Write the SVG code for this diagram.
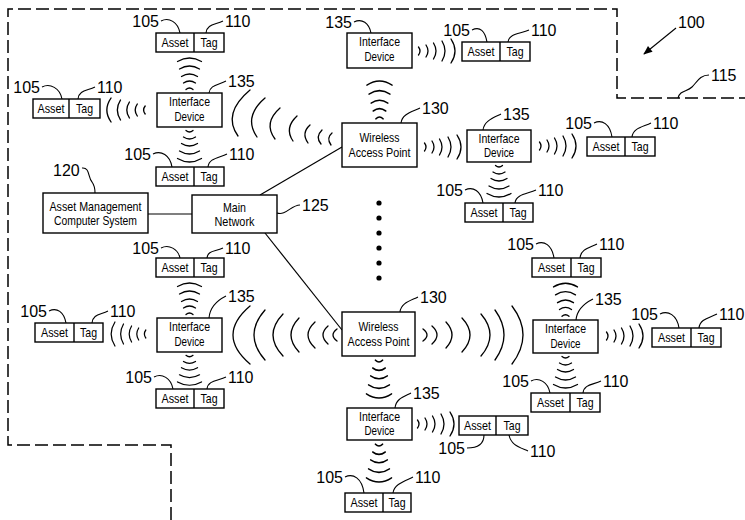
<svg xmlns="http://www.w3.org/2000/svg" width="745" height="520" viewBox="0 0 745 520">
<defs>
<style>
.b{fill:#fff;stroke:#000;stroke-width:1.4}
.d{fill:none;stroke:#000;stroke-width:1.5;stroke-dasharray:13 5}
.w{fill:none;stroke:#000;stroke-width:1.3;stroke-linecap:round}
.c{fill:none;stroke:#000;stroke-width:1.2}
.l{fill:none;stroke:#000;stroke-width:1.1}
.t{font-family:"Liberation Sans",Arial,sans-serif;font-size:13px;text-anchor:middle;fill:#000}
.n{font-family:"Liberation Sans",Arial,sans-serif;font-size:16px;fill:#000}
.e{text-anchor:end}
</style>
<marker id="ah" viewBox="0 0 10 10" refX="9" refY="5" markerWidth="11" markerHeight="9" orient="auto" markerUnits="userSpaceOnUse"><path d="M0,1 L10,5 L0,9 z" fill="#000"/></marker>
<g id="wr" class="w">
<path d="M6.5,-4 Q9.5,0 6.5,4"/>
<path d="M14,-6 Q18,0 14,6"/>
<path d="M21.5,-8 Q26.5,0 21.5,8"/>
<path d="M30,-10 Q36,0 30,10"/>
<path d="M39,-12 Q47,0 39,12"/>
</g>
<g id="wd" class="w">
<path d="M-3.5,3.5 Q0,6.5 3.5,3.5"/>
<path d="M-6,10 Q0,14 6,10"/>
<path d="M-8,16.5 Q0,21.5 8,16.5"/>
<path d="M-10,24 Q0,30 10,24"/>
<path d="M-12,31.5 Q0,38.5 12,31.5"/>
</g>
</defs>
<rect width="745" height="520" fill="#fff"/>

<path class="d" d="M171,520 V445 H8 V9 H617 V98 H745"/>

<g id="connectors">
<path class="c" d="M148,214 H192"/>
<path class="c" d="M260,195 L342,147"/>
<path class="c" d="M265,233 L342,330"/>
<g class="w">
<path d="M250,90 Q222,113.5 238,136"/>
<path d="M265,98 Q243,117 257,137"/>
<path d="M280,108 Q263,123 275,139"/>
<path d="M297,116 Q284,128 293,141"/>
<path d="M310,125 Q301,133 308,143"/>
<path d="M322,130 Q315,137 321,144"/>
<path d="M332,133 Q326,138 331,145"/>
<path d="M250,306 Q216,335 250,364"/>
<path d="M265,310 Q243,335 265,360"/>
<path d="M283,314 Q263,335 283,356"/>
<path d="M299,318 Q283,335 299,352"/>
<path d="M315,322 Q301,335 315,348"/>
<path d="M328,326 Q318,335 328,344"/>
<path d="M337,329 Q329,335 337,341"/>
<path d="M423,329 Q431,335 423,341"/>
<path d="M432,326 Q442,335 432,344"/>
<path d="M446,322 Q458,335 446,348"/>
<path d="M462,318 Q478,335 462,352"/>
<path d="M481,314 Q499,335 481,356"/>
<path d="M495,310 Q513,335 495,360"/>
<path d="M512,306 Q534,335 512,364"/>
</g>
<use href="#wd" transform="translate(189.5,93) scale(1,-1)"/>
<use href="#wd" transform="translate(189.5,127)"/>
<use href="#wr" transform="translate(152,110) scale(-1.05,1)"/>
<use href="#wd" transform="translate(189.5,318) scale(1,-1)"/>
<use href="#wd" transform="translate(189.5,352) scale(1,0.95)"/>
<use href="#wr" transform="translate(152,334) scale(-0.95,1)"/>
<use href="#wd" transform="translate(379.5,123) scale(1.05,-1.2)"/>
<use href="#wr" transform="translate(412,51)"/>
<use href="#wr" transform="translate(418,147)"/>
<use href="#wr" transform="translate(533,146)"/>
<use href="#wd" transform="translate(499,162)"/>
<use href="#wd" transform="translate(565.5,320) scale(1,-1.05)"/>
<use href="#wd" transform="translate(565.5,353)"/>
<use href="#wr" transform="translate(600,336)"/>
<use href="#wd" transform="translate(379,356) scale(1.05,1.2)"/>
<use href="#wr" transform="translate(411,424)"/>
<use href="#wd" transform="translate(379,440) scale(1.05,1.2)"/>
<g fill="#000">
<circle cx="379" cy="203" r="2.6"/><circle cx="379" cy="218" r="2.6"/><circle cx="379" cy="233" r="2.6"/>
<circle cx="379" cy="248" r="2.6"/><circle cx="379" cy="263" r="2.6"/><circle cx="379" cy="278" r="2.6"/>
</g>
</g>

<g id="amcs"><rect class="b" x="43" y="193" width="105" height="40"/>
<text class="t" x="95.5" y="211" textLength="92" lengthAdjust="spacingAndGlyphs">Asset Management</text>
<text class="t" x="95.5" y="225" textLength="83" lengthAdjust="spacingAndGlyphs">Computer System</text></g>
<g id="main-network"><rect class="b" x="192" y="195" width="85" height="38"/>
<text class="t" x="234.5" y="212" textLength="23" lengthAdjust="spacingAndGlyphs">Main</text>
<text class="t" x="234.5" y="226" textLength="40" lengthAdjust="spacingAndGlyphs">Network</text></g>
<g id="wap1"><rect class="b" x="342" y="123" width="75" height="44"/>
<text class="t" x="379.5" y="142" textLength="40" lengthAdjust="spacingAndGlyphs">Wireless</text>
<text class="t" x="379.5" y="157" textLength="62" lengthAdjust="spacingAndGlyphs">Access Point</text></g>
<g id="wap2"><rect class="b" x="342" y="312" width="73" height="44"/>
<text class="t" x="378.5" y="331" textLength="40" lengthAdjust="spacingAndGlyphs">Wireless</text>
<text class="t" x="378.5" y="346" textLength="62" lengthAdjust="spacingAndGlyphs">Access Point</text></g>

<g id="id1"><rect class="b" x="157" y="93" width="65" height="34"/>
<text class="t" x="189.5" y="106" textLength="41" lengthAdjust="spacingAndGlyphs">Interface</text>
<text class="t" x="189.5" y="121" textLength="30" lengthAdjust="spacingAndGlyphs">Device</text></g>
<g id="id2"><rect class="b" x="157" y="318" width="65" height="34"/>
<text class="t" x="189.5" y="331" textLength="41" lengthAdjust="spacingAndGlyphs">Interface</text>
<text class="t" x="189.5" y="346" textLength="30" lengthAdjust="spacingAndGlyphs">Device</text></g>
<g id="id4"><rect class="b" x="347" y="33" width="65" height="35"/>
<text class="t" x="379.5" y="46" textLength="41" lengthAdjust="spacingAndGlyphs">Interface</text>
<text class="t" x="379.5" y="61" textLength="30" lengthAdjust="spacingAndGlyphs">Device</text></g>
<g id="id5"><rect class="b" x="467" y="130" width="64" height="32"/>
<text class="t" x="499" y="143" textLength="41" lengthAdjust="spacingAndGlyphs">Interface</text>
<text class="t" x="499" y="157" textLength="30" lengthAdjust="spacingAndGlyphs">Device</text></g>
<g id="id6"><rect class="b" x="533" y="320" width="65" height="33"/>
<text class="t" x="565.5" y="333" textLength="41" lengthAdjust="spacingAndGlyphs">Interface</text>
<text class="t" x="565.5" y="348" textLength="30" lengthAdjust="spacingAndGlyphs">Device</text></g>
<g id="id7"><rect class="b" x="347" y="408" width="65" height="32"/>
<text class="t" x="379.5" y="421" textLength="41" lengthAdjust="spacingAndGlyphs">Interface</text>
<text class="t" x="379.5" y="435" textLength="30" lengthAdjust="spacingAndGlyphs">Device</text></g>

<g id="a1"><rect class="b" x="156" y="33" width="68" height="19"/><path class="b" d="M194,33 V52"/>
<text class="t" x="175" y="47" textLength="27" lengthAdjust="spacingAndGlyphs">Asset</text><text class="t" x="209" y="47" textLength="17" lengthAdjust="spacingAndGlyphs">Tag</text></g>
<g id="a2"><rect class="b" x="33" y="99" width="67" height="19"/><path class="b" d="M69,99 V118"/>
<text class="t" x="51" y="113" textLength="27" lengthAdjust="spacingAndGlyphs">Asset</text><text class="t" x="84.5" y="113" textLength="17" lengthAdjust="spacingAndGlyphs">Tag</text></g>
<g id="a3"><rect class="b" x="156" y="167" width="68" height="19"/><path class="b" d="M194,167 V186"/>
<text class="t" x="175" y="181" textLength="27" lengthAdjust="spacingAndGlyphs">Asset</text><text class="t" x="209" y="181" textLength="17" lengthAdjust="spacingAndGlyphs">Tag</text></g>
<g id="a12"><rect class="b" x="156" y="258" width="68" height="19"/><path class="b" d="M194,258 V277"/>
<text class="t" x="175" y="272" textLength="27" lengthAdjust="spacingAndGlyphs">Asset</text><text class="t" x="209" y="272" textLength="17" lengthAdjust="spacingAndGlyphs">Tag</text></g>
<g id="a13"><rect class="b" x="35" y="323" width="68" height="19"/><path class="b" d="M74,323 V342"/>
<text class="t" x="54.5" y="337" textLength="27" lengthAdjust="spacingAndGlyphs">Asset</text><text class="t" x="88.5" y="337" textLength="17" lengthAdjust="spacingAndGlyphs">Tag</text></g>
<g id="a14"><rect class="b" x="156" y="389" width="68" height="19"/><path class="b" d="M194,389 V408"/>
<text class="t" x="175" y="403" textLength="27" lengthAdjust="spacingAndGlyphs">Asset</text><text class="t" x="209" y="403" textLength="17" lengthAdjust="spacingAndGlyphs">Tag</text></g>
<g id="a5"><rect class="b" x="462" y="42" width="68" height="19"/><path class="b" d="M500,42 V61"/>
<text class="t" x="481" y="56" textLength="27" lengthAdjust="spacingAndGlyphs">Asset</text><text class="t" x="515" y="56" textLength="17" lengthAdjust="spacingAndGlyphs">Tag</text></g>
<g id="a6"><rect class="b" x="587" y="137" width="68" height="19"/><path class="b" d="M625,137 V156"/>
<text class="t" x="606" y="151" textLength="27" lengthAdjust="spacingAndGlyphs">Asset</text><text class="t" x="640" y="151" textLength="17" lengthAdjust="spacingAndGlyphs">Tag</text></g>
<g id="a4"><rect class="b" x="465" y="203" width="68" height="19"/><path class="b" d="M503,203 V222"/>
<text class="t" x="484" y="217" textLength="27" lengthAdjust="spacingAndGlyphs">Asset</text><text class="t" x="518" y="217" textLength="17" lengthAdjust="spacingAndGlyphs">Tag</text></g>
<g id="a7"><rect class="b" x="532" y="258" width="69" height="19"/><path class="b" d="M571,258 V277"/>
<text class="t" x="551.5" y="272" textLength="27" lengthAdjust="spacingAndGlyphs">Asset</text><text class="t" x="586" y="272" textLength="17" lengthAdjust="spacingAndGlyphs">Tag</text></g>
<g id="a8"><rect class="b" x="652" y="328" width="69" height="19"/><path class="b" d="M691,328 V347"/>
<text class="t" x="671.5" y="342" textLength="27" lengthAdjust="spacingAndGlyphs">Asset</text><text class="t" x="706" y="342" textLength="17" lengthAdjust="spacingAndGlyphs">Tag</text></g>
<g id="a9"><rect class="b" x="531" y="393" width="69" height="19"/><path class="b" d="M570,393 V412"/>
<text class="t" x="550.5" y="407" textLength="27" lengthAdjust="spacingAndGlyphs">Asset</text><text class="t" x="585" y="407" textLength="17" lengthAdjust="spacingAndGlyphs">Tag</text></g>
<g id="a10"><rect class="b" x="459" y="416" width="69" height="19"/><path class="b" d="M496,416 V435"/>
<text class="t" x="477.5" y="430" textLength="27" lengthAdjust="spacingAndGlyphs">Asset</text><text class="t" x="512" y="430" textLength="17" lengthAdjust="spacingAndGlyphs">Tag</text></g>
<g id="a11"><rect class="b" x="345" y="493" width="66" height="19"/><path class="b" d="M383,493 V512"/>
<text class="t" x="364" y="507" textLength="27" lengthAdjust="spacingAndGlyphs">Asset</text><text class="t" x="397" y="507" textLength="17" lengthAdjust="spacingAndGlyphs">Tag</text></g>

<g id="refs">
<g class="l">
<path d="M161,21 C169,17 178,22 180,33"/><path d="M206,33 C207,24 215,25 223,21"/>
<path d="M42,87 C50,83 60,88 62,99"/><path d="M78,99 C79,90 87,91 95,87"/>
<path d="M153,154 C161,150 170,155 172,167"/><path d="M208,167 C209,158 219,158 227,154"/>
<path d="M161,248 C169,244 178,249 180,258"/><path d="M207,258 C208,250 215,252 223,248"/>
<path d="M49,311 C57,307 64,312 66,323"/><path d="M92,323 C93,314 100,315 108,311"/>
<path d="M154,377 C162,373 171,378 173,389"/><path d="M207,389 C208,380 218,381 226,377"/>
<path d="M472,30 C480,26 485,31 487,42"/><path d="M508,42 C509,33 521,34 529,30"/>
<path d="M594,123 C602,119 610,124 612,137"/><path d="M632,137 C633,128 643,127 651,123"/>
<path d="M465,190 C473,186 481,191 483,203"/><path d="M515,203 C516,194 528,194 536,190"/>
<path d="M536,244 C544,240 552,245 554,258"/><path d="M580,258 C581,249 589,248 597,244"/>
<path d="M660,314 C668,310 677,315 679,328"/><path d="M699,328 C700,319 709,318 717,314"/>
<path d="M531,381 C539,377 548,382 550,393"/><path d="M583,393 C584,384 593,385 601,381"/>
<path d="M467,448 C476,448 484,445 484,435"/><path d="M509,435 C511,445 519,447 528,451"/>
<path d="M345,477 C353,473 362,478 364,493"/><path d="M393,493 C394,484 405,481 413,477"/>
<path d="M354,22 C362,18 369,23 371,33"/>
<path d="M209,93 C210,85 218,85 226,81"/>
<path d="M209,318 C210,306 218,300 226,296"/>
<path d="M483,130 C484,121 493,118 501,114"/>
<path d="M576,320 C577,309 585,303 593,299"/>
<path d="M395,408 C396,399 403,397 411,393"/>
<path d="M401,123 C402,114 412,112 420,108"/>
<path d="M400,312 C401,303 410,301 418,297"/>
<path d="M82,168 C90,167 88,178 92,182 C95,186 95,189 95,193"/>
<path d="M277,213 C286,216 291,205 300,205"/>
<path d="M709,75 C700,75 697,82 692,87 C687,92 680,90 678,98"/>
<path d="M676,28 L644,54" marker-end="url(#ah)"/>
</g>
<text class="n e" x="159" y="27">105</text><text class="n" x="225" y="27">110</text>
<text class="n e" x="40" y="93">105</text><text class="n" x="97" y="93">110</text>
<text class="n e" x="151" y="160">105</text><text class="n" x="229" y="160">110</text>
<text class="n e" x="159" y="254">105</text><text class="n" x="225" y="254">110</text>
<text class="n e" x="47" y="317">105</text><text class="n" x="110" y="317">110</text>
<text class="n e" x="152" y="383">105</text><text class="n" x="228" y="383">110</text>
<text class="n e" x="470" y="36">105</text><text class="n" x="531" y="36">110</text>
<text class="n e" x="592" y="129">105</text><text class="n" x="653" y="129">110</text>
<text class="n e" x="463" y="196">105</text><text class="n" x="538" y="196">110</text>
<text class="n e" x="534" y="250">105</text><text class="n" x="599" y="250">110</text>
<text class="n e" x="658" y="320">105</text><text class="n" x="719" y="320">110</text>
<text class="n e" x="529" y="387">105</text><text class="n" x="603" y="387">110</text>
<text class="n e" x="465" y="454">105</text><text class="n" x="530" y="457">110</text>
<text class="n e" x="343" y="483">105</text><text class="n" x="415" y="483">110</text>
<text class="n" x="228" y="87">135</text>
<text class="n" x="228" y="302">135</text>
<text class="n e" x="352" y="28">135</text>
<text class="n" x="503" y="120">135</text>
<text class="n" x="595" y="305">135</text>
<text class="n" x="413" y="399">135</text>
<text class="n" x="422" y="114">130</text>
<text class="n" x="420" y="303">130</text>
<text class="n" x="53" y="176">120</text>
<text class="n" x="302" y="211">125</text>
<text class="n" x="678" y="28">100</text>
<text class="n" x="711" y="81">115</text>
</g>
</svg>
